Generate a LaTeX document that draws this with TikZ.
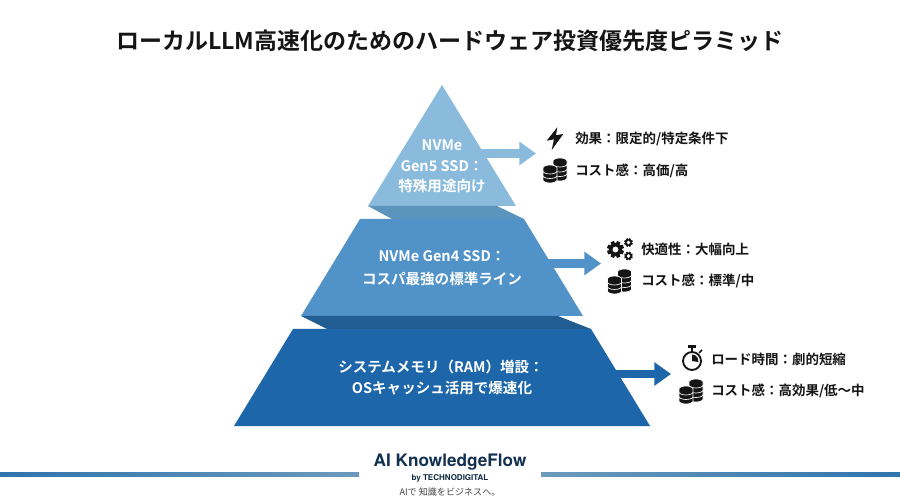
\documentclass[tikz,border=0pt]{standalone}
\usepackage{fontspec}
\usetikzlibrary{arrows.meta}
\setmainfont{Noto Sans CJK JP}[BoldFont={Noto Sans CJK JP Bold}]
\newfontfamily\latinfont{TeX Gyre Heros}
\definecolor{tierA}{HTML}{8ABBDD}
\definecolor{tierB}{HTML}{5193C8}
\definecolor{tierC}{HTML}{1C66A9}
\definecolor{shadeA}{HTML}{5B94BC}
\definecolor{shadeB}{HTML}{215C93}
\definecolor{ink}{HTML}{151515}
\definecolor{navy}{HTML}{12304F}
\definecolor{ruleL}{HTML}{2F74AD}
\definecolor{ruleR}{HTML}{6C9ABC}
\newcommand{\coindisc}[2]{%
  \fill[ink,draw=white,line width=0.5pt] (#1-7,#2) arc (180:360:7 and 3) -- (#1+7,#2+3) arc (0:180:7 and 3) -- cycle;}
\newcommand{\coinsicon}[2]{%
  \begin{scope}[shift={(#1,#2)}]
    \foreach \yy in {5,0.5,-4,-9} {\coindisc{4}{\yy}}
    \foreach \yy in {7,2.5,-2} {\coindisc{-6}{\yy}}
  \end{scope}}
\newcommand{\gearicon}[4]{%
  \begin{scope}[shift={(#1,#2)}]
    \foreach \aa in {0,45,...,315} {\fill[ink,rotate=\aa+22.5] (-0.22*#3,0) rectangle (0.22*#3,#3);}
    \fill[ink] (0,0) circle (0.78*#3);
    \fill[white] (0,0) circle (#4*#3);
  \end{scope}}
\tikzset{
  x=0.75pt,y=-0.75pt,
  tiertext/.style={text=white,font=\bfseries\fontsize{10.9}{13}\selectfont,anchor=center,inner sep=0pt},
  sidetext/.style={text=ink,font=\bfseries\fontsize{10.1}{12}\selectfont,anchor=west,inner sep=0pt},
  flowarrow/.style={line width=6.6pt,-{Triangle[length=12.5pt,width=17pt]}},
}
\begin{document}
\begin{tikzpicture}
\useasboundingbox (0,0) rectangle (900,502);
\fill[white] (0,0) rectangle (900,502);
\node[inner sep=0pt,text=ink,font=\bfseries\fontsize{17.25}{20}\selectfont] (title) at (450,41) {ローカルLLM高速化のためのハードウェア投資優先度ピラミッド};
% connectors
\coordinate (a1s) at (470,153.5); \coordinate (a1t) at (536,153.5);
\coordinate (a2s) at (535,263.5); \coordinate (a2t) at (601,263.5);
\coordinate (a3s) at (600,374); \coordinate (a3t) at (671,374);
\draw[flowarrow,tierA] (a1s) -- (a1t);
\draw[flowarrow,tierB] (a2s) -- (a2t);
\draw[flowarrow,tierC] (a3s) -- (a3t);
% pyramid
\fill[tierA] (442,85) -- (516,206) -- (368,206) -- cycle;
\fill[tierB] (360,219) -- (524,219) -- (583,316) -- (301,316) -- cycle;
\fill[shadeA] (368,206) -- (497,206) -- (524,219) -- (392,219) -- cycle;
\fill[tierC] (293,329) -- (591,329) -- (650,426) -- (234,426) -- cycle;
\fill[shadeB] (301,316) -- (558,316) -- (591,329) -- (327,329) -- cycle;
% tier labels
\node[tiertext] (t1a) at (442,145) {NVMe};
\node[tiertext] (t1b) at (442,166) {Gen5 SSD：};
\node[tiertext] (t1c) at (442,186) {特殊用途向け};
\node[tiertext] (t2a) at (442,256) {NVMe Gen4 SSD：};
\node[tiertext] (t2b) at (442,279) {コスパ最強の標準ライン};
\node[tiertext] (t3a) at (441,367) {システムメモリ（RAM）増設：};
\node[tiertext] (t3b) at (442,388) {OSキャッシュ活用で爆速化};
% side labels
\node[sidetext] (s1a) at (575,139) {効果：限定的/特定条件下};
\node[sidetext] (s1b) at (575,171) {コスト感：高価/高};
\node[sidetext] (s2a) at (641,249) {快適性：大幅向上};
\node[sidetext] (s2b) at (641,281) {コスト感：標準/中};
\node[sidetext] (s3a) at (711,359) {ロード時間：劇的短縮};
\node[sidetext] (s3b) at (711,391) {コスト感：高効果/低～中};
% icons
\fill[ink] (557.3,127.3) -- (546.7,140.7) -- (554,139.3) -- (551.7,150) -- (563.3,134) -- (556,135.3) -- cycle;
\coinsicon{556}{170}
\coinsicon{620.5}{281}
\coinsicon{692}{391}
\gearicon{615.5}{249.5}{8.5}{0.34}
\gearicon{628.5}{242.5}{4.3}{0.42}
\gearicon{628.5}{256}{4.3}{0.42}
\draw[ink,line width=1.4pt] (692,361) circle (9);
\draw[ink,line width=1.4pt] (692,352) -- (692,347);
\draw[ink,line width=1.6pt] (688,346.5) -- (696,346.5);
\draw[ink,line width=1.2pt] (699,353) -- (702,350);
\fill[ink] (692,361) -- (692,354.5) arc (270:370:6.5) -- cycle;
% footer
\shade[left color=ruleL,right color=ruleR] (0,472) rectangle (359,476.2);
\shade[left color=ruleR,right color=ruleL] (541,472) rectangle (900,476.2);
\node[inner sep=0pt,text=navy,font=\latinfont\bfseries\fontsize{12.9}{16}\selectfont] (brand) at (450,462) {AI KnowledgeFlow};
\node[inner sep=0pt,text=navy!85!black,font=\latinfont\bfseries\fontsize{6}{8}\selectfont] (by) at (450,478.5) {by TECHNODIGITAL};
\node[inner sep=0pt,text=ink!80,font=\fontsize{6.8}{9}\selectfont] (tag) at (450,492) {AIで 知識をビジネスへ。};
\end{tikzpicture}
\end{document}
